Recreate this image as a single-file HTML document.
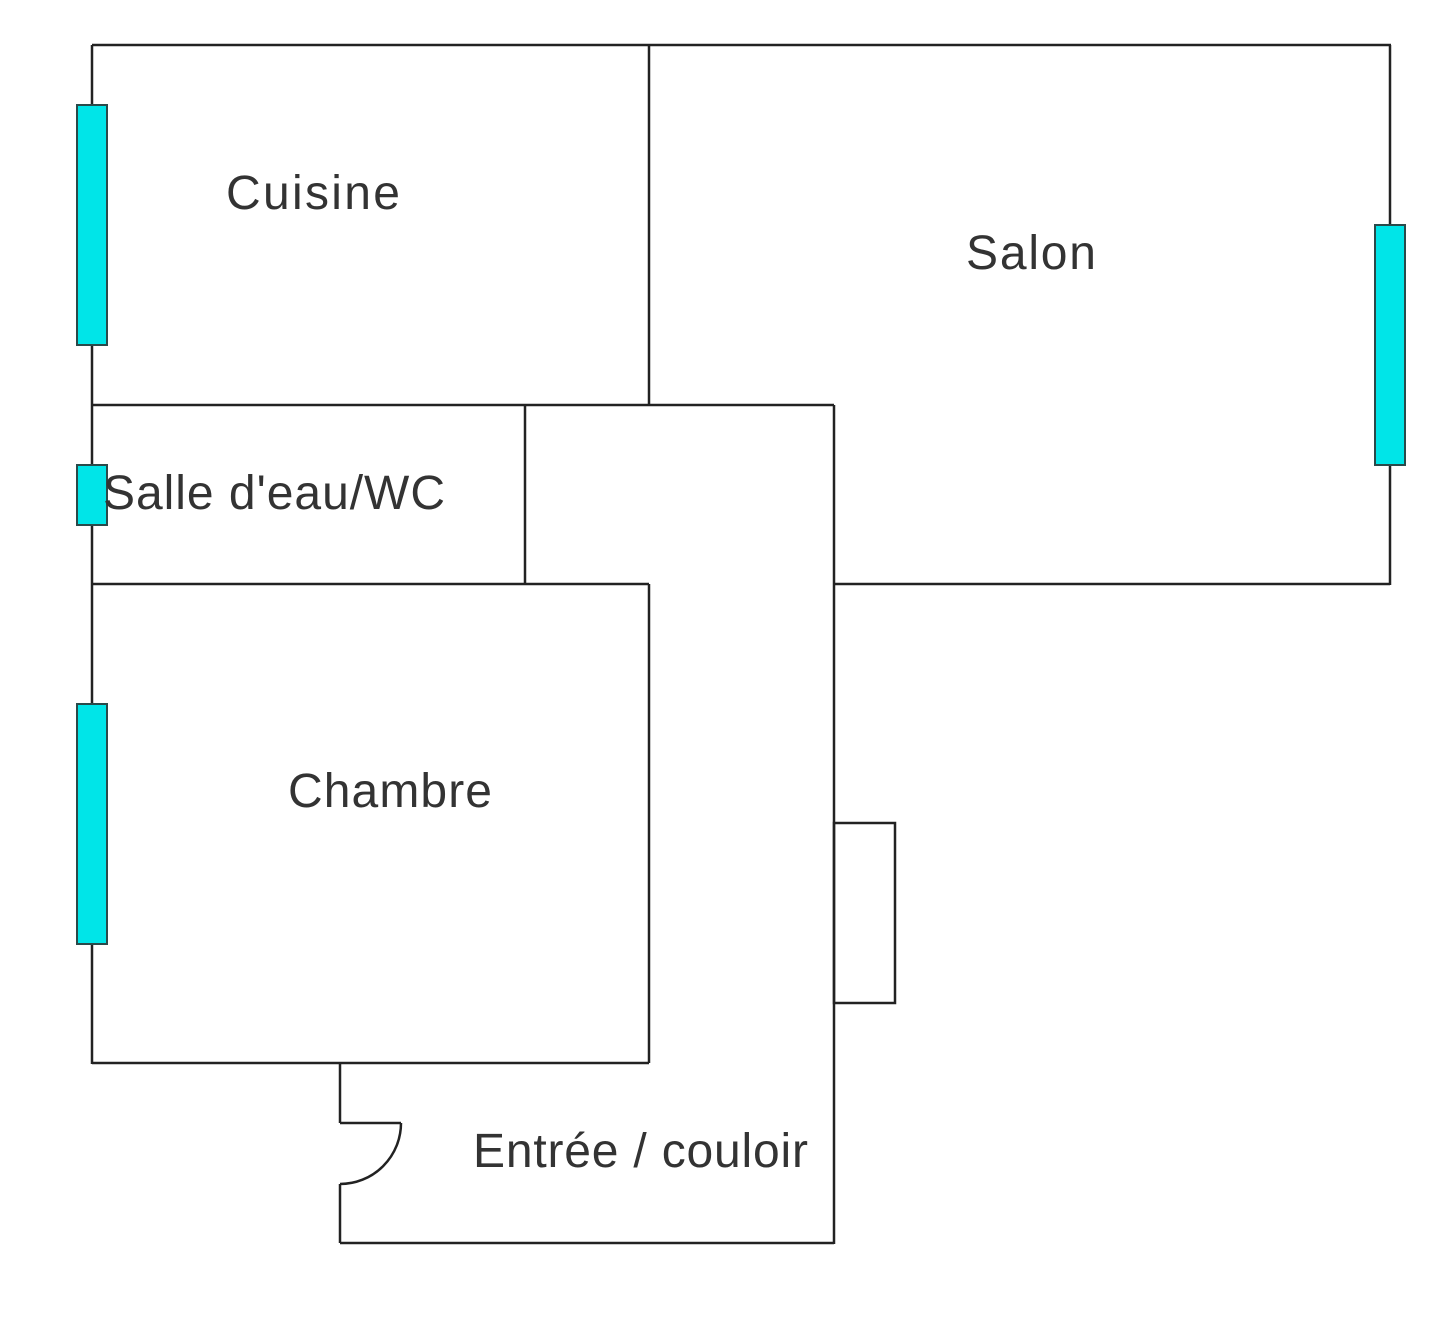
<!DOCTYPE html>
<html><head><meta charset="utf-8"><style>html,body{margin:0;padding:0;background:#fff}</style></head>
<body>
<svg width="1437" height="1328" viewBox="0 0 1437 1328" xmlns="http://www.w3.org/2000/svg">
<g stroke="#222" stroke-width="2.5" fill="none">
<line x1="92" y1="45" x2="1391" y2="45"/>
<line x1="92" y1="45" x2="92" y2="1064"/>
<line x1="649" y1="45" x2="649" y2="405"/>
<line x1="92" y1="405" x2="834" y2="405"/>
<line x1="1390" y1="45" x2="1390" y2="585"/>
<line x1="834" y1="584" x2="1390" y2="584"/>
<line x1="834" y1="405" x2="834" y2="1244"/>
<line x1="525" y1="405" x2="525" y2="584"/>
<line x1="92" y1="584" x2="649" y2="584"/>
<line x1="649" y1="584" x2="649" y2="1063"/>
<line x1="92" y1="1063" x2="649" y2="1063"/>
<line x1="340" y1="1063" x2="340" y2="1123"/>
<line x1="340" y1="1184" x2="340" y2="1243"/>
<line x1="340" y1="1243" x2="834" y2="1243"/>
<rect x="834" y="823" width="61" height="180"/>
<line x1="340" y1="1123" x2="401" y2="1123"/>
<path d="M401 1123 A61 61 0 0 1 340 1184"/>
</g>
<g fill="#00e5e8" stroke="#2a4a4a" stroke-width="2">
<rect x="77" y="105" width="30" height="240"/>
<rect x="77" y="465" width="30" height="60"/>
<rect x="77" y="704" width="30" height="240"/>
<rect x="1375" y="225" width="30" height="240"/>
</g>
<g font-family="Liberation Sans, sans-serif" font-size="48" fill="#333">
<text x="226" y="209" textLength="174" lengthAdjust="spacing">Cuisine</text>
<text x="966" y="269" textLength="130" lengthAdjust="spacing">Salon</text>
<text x="103" y="509" textLength="342" lengthAdjust="spacing">Salle d'eau/WC</text>
<text x="288" y="807" textLength="204" lengthAdjust="spacing">Chambre</text>
<text x="473" y="1167" textLength="335" lengthAdjust="spacing">Entrée / couloir</text>
</g>
</svg>
</body></html>
